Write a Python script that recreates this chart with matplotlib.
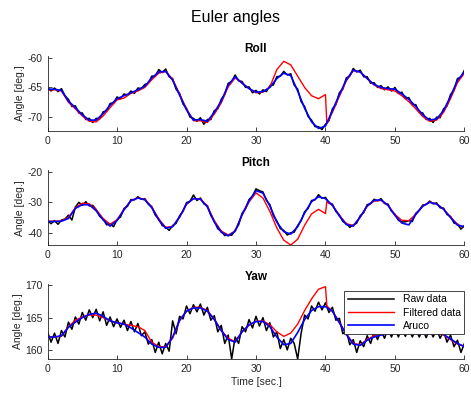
import numpy as np
import matplotlib
matplotlib.use('Agg')
import matplotlib.pyplot as plt

plt.rcParams['font.family'] = ['Liberation Sans', 'DejaVu Sans']
plt.rcParams['axes.unicode_minus'] = False

# raw data sampled every 0.5 s
raw_t = np.arange(0, 60.5, 0.5)
raw_roll = [-65.0, -65.6, -65.1, -65.7, -65.2, -66.4, -67.0, -68.2, -68.1, -69.3,
            -69.3, -70.4, -70.2, -70.9, -70.2, -70.3, -69.1, -69.0, -67.7, -67.6,
            -66.6, -66.9, -66.1, -66.3, -65.6, -66.0, -65.1, -65.2, -64.5, -64.3,
            -63.1, -63.1, -62.0, -62.5, -61.9, -63.2, -63.5, -65.3, -66.0, -67.8,
            -68.5, -70.0, -70.2, -70.7, -70.1, -71.2, -70.4, -70.4, -68.9, -68.6,
            -67.0, -66.2, -64.3, -64.0, -62.9, -63.9, -64.0, -65.0, -64.9, -65.9,
            -65.5, -66.1, -65.4, -65.7, -64.7, -64.6, -63.2, -63.1, -62.3, -62.9,
            -62.7, -64.6, -65.3, -67.4, -68.2, -69.9, -70.5, -71.6, -71.6, -72.1,
            -71.2, -70.6, -68.6, -67.9, -65.9, -65.3, -63.4, -63.1, -61.8, -62.4,
            -62.1, -63.2, -63.2, -64.3, -64.2, -65.0, -64.7, -65.4, -64.9, -65.6,
            -65.0, -66.0, -65.8, -66.9, -66.7, -67.9, -67.9, -69.2, -69.3, -70.4,
            -70.2, -70.9, -70.0, -70.1, -68.6, -68.1, -66.2, -65.5, -63.5, -63.3,
            -62.1]
raw_pitch = [-36.0, -37.0, -36.0, -37.2, -35.8, -35.5, -34.2, -35.8, -31.6, -30.0,
             -31.0, -29.8, -31.2, -31.0, -32.4, -34.6, -35.4, -37.4, -37.0, -38.0,
             -35.6, -34.8, -32.0, -31.3, -29.1, -29.2, -28.2, -29.0, -28.8, -30.6,
             -31.4, -34.2, -35.4, -37.6, -38.1, -39.2, -37.6, -36.9, -34.4, -33.0,
             -30.1, -29.7, -27.6, -29.4, -28.6, -30.5, -31.1, -34.3, -36.1, -38.7,
             -39.4, -40.9, -40.6, -40.8, -39.1, -37.4, -33.6, -32.1, -29.1, -28.0,
             -25.6, -26.2, -26.6, -29.4, -30.8, -34.4, -36.1, -38.6, -39.2, -40.7,
             -40.0, -39.8, -37.6, -36.0, -33.1, -32.0, -29.4, -29.2, -27.5, -28.7,
             -28.4, -30.2, -30.6, -33.0, -34.1, -36.3, -36.9, -38.2, -37.4, -36.8,
             -34.4, -33.4, -30.8, -30.4, -29.0, -29.5, -28.8, -30.4, -30.6, -32.9,
             -33.9, -35.9, -36.4, -36.4, -36.0, -36.3, -33.6, -32.6, -30.9, -30.7,
             -29.6, -30.5, -30.2, -31.8, -31.9, -34.0, -34.6, -36.8, -37.1, -38.8,
             -37.6]
raw_yaw = [162.8, 161.2, 162.6, 161.0, 163.0, 162.0, 164.3, 163.2, 165.1, 164.0,
           165.8, 164.6, 166.2, 165.0, 166.3, 164.5, 165.9, 163.8, 165.1, 163.6,
           164.8, 163.5, 164.6, 163.0, 164.4, 162.8, 164.1, 162.2, 162.8, 160.9,
           161.6, 159.6, 161.2, 159.4, 161.0, 159.8, 164.5, 162.5, 165.2, 164.8,
           166.8, 165.6, 167.0, 165.9, 167.1, 165.4, 166.6, 164.6, 165.3, 162.8,
           163.8, 161.0, 162.3, 158.6, 162.0, 161.0, 163.6, 162.8, 164.7, 163.4,
           165.2, 163.7, 165.0, 163.0, 164.2, 162.0, 162.8, 160.2, 161.6, 160.0,
           161.8, 161.0, 158.6, 162.6, 165.4, 164.8, 166.8, 166.0, 167.4, 166.2,
           167.3, 165.8, 166.6, 164.6, 164.9, 162.5, 163.0, 160.8, 161.6, 159.6,
           161.4, 160.5, 162.2, 161.0, 162.8, 161.6, 163.0, 161.8, 163.2, 162.0,
           163.3, 162.0, 163.4, 162.1, 163.3, 162.0, 163.2, 162.0, 163.1, 161.9,
           163.2, 162.0, 163.2, 161.8, 162.9, 161.2, 162.3, 160.5, 161.5, 159.6,
           161.0]

# filtered data, 1 s steps plus the reset at 40.2 s
filt_t = list(range(0, 41)) + [40.2] + list(range(41, 61))
filt_roll = [-65.4, -65.4, -65.6, -67.5, -68.6, -69.8, -70.7, -70.8, -69.8, -68.4,
             -67.1, -66.8, -66.0, -65.6, -65.0, -63.7, -62.6, -62.3, -63.6, -66.1,
             -68.6, -70.6, -70.6, -70.9, -69.5, -67.6, -64.9, -63.4, -64.2, -65.2,
             -65.9, -65.8, -64.9, -62.0, -60.6, -61.2, -63.1, -65.0, -66.4, -66.9,
             -66.2, -71.1, -69.2, -66.5, -63.9, -62.2, -62.4, -63.5, -64.6, -65.2,
             -65.4, -65.6, -66.4, -67.4, -68.6, -69.9, -70.7, -70.5, -69.2, -66.9,
             -64.2, -62.6]
filt_pitch = [-36.2, -36.2, -36.1, -34.9, -31.8, -30.3, -30.5, -32.4, -35.3, -37.2,
              -35.7, -32.3, -29.4, -28.6, -29.0, -31.5, -35.4, -38.2, -37.9, -34.9,
              -30.7, -28.8, -28.9, -31.2, -36.0, -39.4, -40.7, -39.4, -34.2, -29.9,
              -26.9, -28.6, -33.0, -38.4, -42.4, -44.0, -42.1, -37.5, -33.8, -32.3,
              -33.7, -29.8, -31.0, -34.2, -37.0, -37.6, -34.9, -31.3, -29.6, -29.4,
              -31.0, -34.0, -35.9, -36.0, -33.9, -31.2, -29.9, -30.5, -32.2, -34.8,
              -37.2, -38.2]
filt_yaw = [162.0, 162.0, 162.1, 163.6, 164.6, 165.1, 165.4, 165.4, 165.0, 164.5,
            164.2, 164.0, 163.8, 163.6, 163.0, 161.2, 160.5, 160.5, 161.8, 164.5,
            166.0, 166.6, 166.6, 166.1, 164.8, 163.0, 161.8, 161.3, 162.8, 163.8,
            164.4, 164.5, 163.9, 162.8, 162.1, 162.6, 164.0, 166.1, 167.9, 169.4,
            169.8, 166.8, 166.0, 164.3, 162.5, 161.0, 160.8, 161.6, 162.2, 162.4,
            162.6, 162.7, 162.8, 162.8, 162.7, 162.6, 162.6, 162.6, 162.3, 161.6,
            160.9, 160.6]

# aruco reference, 1 s steps
aruco_t = np.arange(0, 61, 1)
aruco_roll = [-65.3, -65.3, -65.5, -67.3, -68.4, -69.6, -70.5, -70.5, -69.4, -68.0,
              -66.9, -66.4, -65.9, -65.4, -64.8, -63.4, -62.4, -62.3, -63.8, -66.3,
              -68.8, -70.5, -70.4, -70.7, -69.2, -67.3, -64.6, -63.2, -64.3, -65.2,
              -65.8, -65.7, -65.0, -63.5, -62.6, -63.0, -65.6, -68.5, -70.8, -71.9,
              -71.5, -68.9, -66.2, -63.7, -62.1, -62.4, -63.5, -64.5, -65.0, -65.2,
              -65.3, -66.1, -67.0, -68.2, -69.6, -70.5, -70.3, -68.9, -66.5, -63.8,
              -62.4]
aruco_pitch = [-36.3, -36.3, -36.2, -35.3, -32.0, -30.8, -30.8, -32.8, -35.8, -37.8,
               -36.0, -32.5, -29.5, -28.6, -29.2, -31.8, -35.8, -38.5, -38.0, -34.8,
               -30.5, -28.8, -29.0, -31.5, -36.5, -39.8, -41.0, -39.5, -34.0, -29.5,
               -26.2, -27.0, -31.2, -36.5, -39.6, -40.4, -38.0, -33.5, -29.8, -28.2,
               -28.8, -31.0, -34.5, -37.3, -37.8, -34.8, -31.2, -29.4, -29.2, -31.0,
               -34.3, -36.8, -37.4, -34.0, -31.3, -30.0, -30.6, -32.3, -35.0, -37.5,
               -38.0]
aruco_yaw = [162.0, 162.0, 162.2, 163.5, 164.3, 165.0, 165.5, 165.7, 165.2, 164.5,
             164.2, 164.0, 163.4, 162.7, 162.0, 160.9, 160.4, 160.4, 162.0, 164.6,
             166.0, 166.5, 166.5, 166.0, 164.7, 163.0, 161.6, 161.2, 162.8, 163.9,
             164.4, 164.4, 163.6, 162.0, 160.8, 161.0, 162.7, 164.7, 166.1, 166.7,
             166.7, 166.0, 164.2, 162.4, 160.9, 160.7, 161.5, 162.0, 162.3, 162.5,
             162.6, 162.7, 162.7, 162.6, 162.5, 162.5, 162.6, 162.4, 161.7, 161.0,
             160.5]

titles = ['Roll', 'Pitch', 'Yaw']
ylims = [(-72.3, -59.7), (-44, -19.5), (158.6, 170.2)]
yticks = [[-70, -65, -60], [-40, -30, -20], [160, 165, 170]]
raws = [raw_roll, raw_pitch, raw_yaw]
filts = [filt_roll, filt_pitch, filt_yaw]
arucos = [aruco_roll, aruco_pitch, aruco_yaw]
bottoms = [0.668, 0.378, 0.089]

fig = plt.figure(figsize=(4.71, 3.94), dpi=100)
fig.suptitle('Euler angles', fontsize=11.5, y=0.975, color='#000000')

axc = '#262626'
for i in range(3):
    ax = fig.add_axes([0.101, bottoms[i], 0.885, 0.190])
    ax.plot(raw_t, raws[i], color='k', lw=1.1, label='Raw data')
    ax.plot(filt_t, filts[i], color='r', lw=1.0, label='Filtered data')
    ax.plot(aruco_t, arucos[i], color='b', lw=1.2, label='Aruco')
    ax.set_xlim(0, 60)
    ax.set_ylim(*ylims[i])
    ax.set_xticks([0, 10, 20, 30, 40, 50, 60])
    ax.set_yticks(yticks[i])
    ax.set_title(titles[i], fontsize=8.5, fontweight='bold', pad=3)
    ax.set_ylabel('Angle [deg.]', fontsize=7.5, color=axc, labelpad=2)
    ax.tick_params(direction='in', labelsize=7.5, colors=axc, length=3, width=0.6)
    for s in ['top', 'right']:
        ax.spines[s].set_visible(False)
    for s in ['left', 'bottom']:
        ax.spines[s].set_color(axc)
        ax.spines[s].set_linewidth(0.6)
    if i == 2:
        ax.set_xlabel('Time [sec.]', fontsize=7.5, color=axc, labelpad=2)
        leg = ax.legend(loc='upper right', bbox_to_anchor=(1.0, 0.91),
                        borderaxespad=0, fontsize=7.5, fancybox=False,
                        framealpha=1, edgecolor='#262626', handlelength=4.5,
                        labelspacing=0.3, borderpad=0.35, handletextpad=0.8)
        leg.get_frame().set_linewidth(0.6)

fig.savefig('out.png', dpi=100)
